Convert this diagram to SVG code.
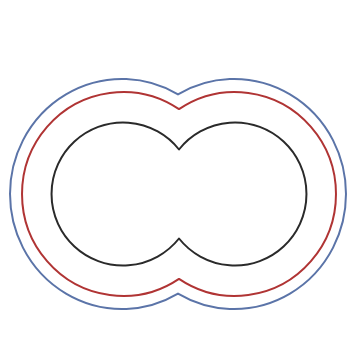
<svg xmlns="http://www.w3.org/2000/svg" width="348" height="345" viewBox="0 0 348 345">
<style>
.c{fill:none;stroke-width:2;stroke-linejoin:round}
.k{stroke:#2a2a2a}
.r{stroke:#b03434}
.b{stroke:#5b74a8}
</style>
<rect width="348" height="345" fill="#ffffff"/>
<path id="outer" class="c b" d="M178,94.4 A112,115 0 1 1 178,293.6 A112,115 0 1 1 178,94.4 Z"/>
<path id="middle" class="c r" d="M179,109.1 A101,102 0 1 1 179,278.9 A101,102 0 1 1 179,109.1 Z"/>
<path id="inner" class="c k" d="M179,149.5 A71.5,71.5 0 1 1 179,238.5 A71.5,71.5 0 1 1 179,149.5 Z"/>
</svg>
